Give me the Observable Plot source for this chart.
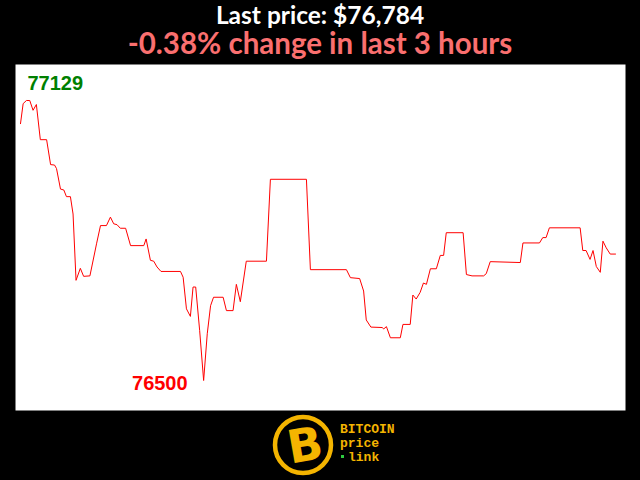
<!DOCTYPE html>
<html><head><meta charset="utf-8">
<script src="https://cdn.jsdelivr.net/npm/d3@7"></script>
<script src="https://cdn.jsdelivr.net/npm/@observablehq/plot@0.6"></script>
<style>
html,body{margin:0;padding:0;background:#000;width:640px;height:480px;overflow:hidden;}
#wrap{position:relative;width:640px;height:480px;}
#title{position:absolute;left:0;top:4px;width:640px;text-align:center;color:#fff;font:bold 24.5px Lato,sans-serif;line-height:22px;white-space:nowrap;}
#subtitle{position:absolute;left:0;top:29.5px;width:640px;text-align:center;color:#fa6f6f;font:bold 29.5px Lato,sans-serif;line-height:26px;white-space:nowrap;}
#chart{position:absolute;left:0;top:64px;}
#logo{position:absolute;left:0;top:410px;}
</style></head>
<body><div id="wrap">
<div id="title"></div>
<div id="subtitle"></div>
<div id="chart"></div>
<svg id="logo" width="640" height="70" viewBox="0 410 640 70">
  <circle cx="303" cy="445" r="28" fill="#000" stroke="#f4b400" stroke-width="4.5"/>
  <text x="305" y="461" text-anchor="middle" font-family="DejaVu Sans" font-weight="bold" font-size="46" fill="#f4b400" transform="rotate(-10 305 445)">B</text>
  <text x="340" y="433" font-family="Liberation Mono" font-weight="bold" font-size="13" fill="#f4b400">BITCOIN</text>
  <text x="340" y="447" font-family="Liberation Mono" font-weight="bold" font-size="13" fill="#f4b400">price</text>
  <rect x="341" y="455" width="3" height="3" fill="#2ecc40"/>
  <text x="348" y="461" font-family="Liberation Mono" font-weight="bold" font-size="13" fill="#f4b400">link</text>
</svg>
</div>
<script>
const lastPrice = "$76,784";
const changeText = "-0.38% change in last 3 hours";
const minutes = [0,0.8,1.8,2.8,3.8,4.8,6.0,7.9,9.1,10.3,10.9,12.1,13.1,13.9,15.1,15.9,16.8,18.1,19.1,21.0,23.0,24.2,26.0,27.2,28.2,29.2,30.2,31.8,33.3,37.3,38.0,39.3,40.3,41.3,42.5,48.4,49.2,50.2,51.4,52.2,53.0,54.2,55.4,56.5,57.5,58.4,61.3,62.3,64.3,65.3,66.5,68.3,74.4,75.6,86.5,87.7,98.6,99.8,102.6,103.8,104.6,106.0,109.4,109.9,110.7,111.9,114.9,115.7,117.9,118.7,119.7,120.9,121.9,122.8,124.0,125.8,127.0,128.0,128.8,133.9,134.9,136.6,140.1,140.9,142.1,151.2,152.0,157.0,158.0,159.0,160.0,169.3,170.1,171.1,172.3,173.2,174.2,175.4,176.2,177.2,178.4,180];
const prices = [77077,77122,77129,77129,77107,77120,77041,77041,76985,76984,76976,76930,76928,76913,76913,76874,76725,76752,76734,76735,76807,76848,76848,76867,76852,76850,76842,76842,76803,76803,76818,76770,76768,76755,76745,76745,76732,76661,76644,76710,76710,76612,76500,76605,76668,76687,76687,76657,76657,76716,76677,76768,76768,76952,76952,76749,76749,76731,76729,76701,76636,76620,76619,76616,76621,76596,76596,76626,76626,76692,76683,76698,76719,76716,76751,76751,76781,76781,76832,76832,76738,76735,76735,76740,76767,76765,76809,76809,76821,76821,76843,76843,76792,76792,76772,76792,76756,76743,76813,76798,76784,76784];

document.getElementById("title").textContent = "Last price: " + lastPrice;
document.getElementById("subtitle").textContent = changeText;

const data = minutes.map((t, i) => ({t, p: prices[i]}));
const iMax = d3.maxIndex(prices), iMin = d3.minIndex(prices);
const maxPt = [data[iMax]], minPt = [data[iMin]];

const chart = Plot.plot({
  width: 640, height: 346,
  marginLeft: 15, marginRight: 15, marginTop: 0, marginBottom: 0,
  x: {type: "linear", domain: [0, 180], axis: null, insetLeft: 5, insetRight: 10},
  y: {domain: [76500, 77129], axis: null, insetTop: 36, insetBottom: 30},
  style: {background: "#000", overflow: "visible"},
  marks: [
    Plot.frame({fill: "#fff", stroke: "none"}),
    Plot.line(data, {x: "t", y: "p", stroke: "#ff0000", strokeWidth: 1}),
    Plot.text(maxPt, {x: "t", y: "p", text: d => String(d.p), textAnchor: "start", dx: 1, dy: -17, fill: "#008000", fontSize: 20, fontWeight: "bold", fontFamily: "Liberation Sans, Arial, sans-serif"}),
    Plot.text(minPt, {x: "t", y: "p", text: d => String(d.p), textAnchor: "end", dx: -16, dy: 3, fill: "#ff0000", fontSize: 20, fontWeight: "bold", fontFamily: "Liberation Sans, Arial, sans-serif"})
  ]
});
document.getElementById("chart").appendChild(chart);
</script>
</body></html>
